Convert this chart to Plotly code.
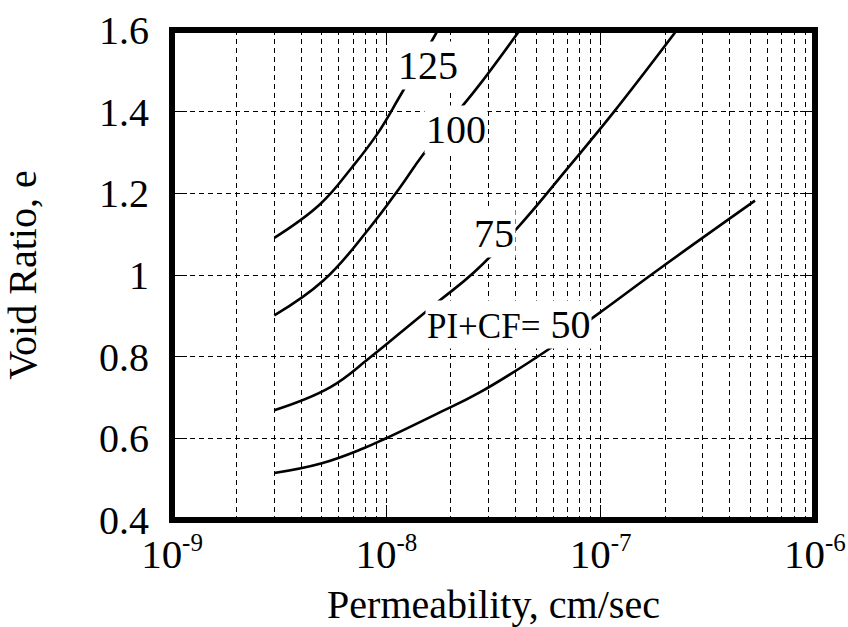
import math
import plotly.graph_objects as go

# Permeability (cm/sec) vs void ratio for four PI+CF groups
k_50 = [3.0e-9, 5.0e-9, 7.78e-9, 9.86e-9, 1.72e-8, 2.74e-8, 5.68e-8, 9.62e-8, 1.89e-7, 5.25e-7]
e_50 = [0.515, 0.539, 0.575, 0.599, 0.660, 0.713, 0.817, 0.903, 1.016, 1.182]

k_75 = [3.0e-9, 5.46e-9, 8.39e-9, 1.197e-8, 1.778e-8, 2.56e-8, 4.21e-8, 7.05e-8, 1.143e-7, 2.27e-7]
e_75 = [0.669, 0.725, 0.798, 0.864, 0.938, 1.006, 1.123, 1.263, 1.397, 1.600]

k_100 = [3.0e-9, 5.1e-9, 8.4e-9, 1.16e-8, 1.47e-8, 2.14e-8, 2.74e-8, 4.2e-8]
e_100 = [0.901, 0.987, 1.117, 1.215, 1.292, 1.398, 1.468, 1.600]

k_125 = [3.0e-9, 4.92e-9, 6.92e-9, 9.06e-9, 1.16e-8, 1.60e-8, 1.74e-8]
e_125 = [1.091, 1.174, 1.264, 1.345, 1.439, 1.566, 1.600]

x_tickvals = [1e-9, 1e-8, 1e-7, 1e-6]
x_exponents = ["-9", "-8", "-7", "-6"]
y_tickvals = [0.4, 0.6, 0.8, 1.0, 1.2, 1.4, 1.6]
y_ticktext = ["0.4", "0.6", "0.8", "1", "1.2", "1.4", "1.6"]

x_ticktext = ["10<sup><span style='font-size:25px'>%s</span></sup>" % p for p in x_exponents]

# label text, anchor permeability, anchor void ratio
curve_labels = [
    ("125", 1.56e-8, 1.514),
    ("100", 2.11e-8, 1.356),
    ("75", 3.18e-8, 1.101),
    ("<span style='font-size:35px'>PI+CF=</span> 50", 3.72e-8, 0.878),
]

FONT = "Liberation Serif"

fig = go.Figure()
for k, e in [(k_50, e_50), (k_75, e_75), (k_100, e_100), (k_125, e_125)]:
    fig.add_trace(go.Scatter(
        x=k, y=e, mode="lines",
        line=dict(color="black", width=2.6, shape="spline", smoothing=1.2),
        showlegend=False, hoverinfo="skip",
    ))

for text, kx, ey in curve_labels:
    fig.add_annotation(
        x=math.log10(kx), y=ey, xref="x", yref="y", text=text,
        showarrow=False, bgcolor="white", borderpad=1,
        font=dict(family=FONT, size=40, color="black"),
    )

grid = dict(gridcolor="black", gridwidth=1, griddash="5px,4px")

minor_x = [m * 10.0 ** d for d in (-9, -8, -7) for m in range(2, 10)]

fig.update_xaxes(
    type="log", range=[-9.0002, -5.9998], automargin=False,
    tickvals=x_tickvals, ticktext=x_ticktext,
    ticks="inside", ticklen=15, tickwidth=1, tickcolor="black",
    mirror="ticks", showline=False, zeroline=False,
    showgrid=True, **grid,
    minor=dict(tickvals=minor_x, showgrid=True, ticks="",
               gridcolor="black", gridwidth=1, griddash="5px,4px"),
    tickfont=dict(family=FONT, size=41, color="black"),
    ticklabelstandoff=6, ticklabeloverflow="allow",
    title=dict(text="Permeability, cm/sec",
               font=dict(family=FONT, size=40, color="black"), standoff=17),
)
fig.update_yaxes(
    range=[0.4, 1.6], automargin=False,
    tickvals=y_tickvals, ticktext=y_ticktext,
    ticks="inside", ticklen=15, tickwidth=1, tickcolor="black",
    mirror="ticks", showline=False, zeroline=False,
    showgrid=True, **grid,
    tickfont=dict(family=FONT, size=40, color="black"),
    ticklabelstandoff=22,
    title=dict(text="Void Ratio, e",
               font=dict(family=FONT, size=40, color="black"), standoff=50),
)

# heavy frame round the plotting area
fig.add_shape(type="rect", xref="paper", yref="paper", x0=0, x1=1, y0=0, y1=1,
              line=dict(color="black", width=6), layer="above")

fig.update_layout(
    width=848, height=627,
    margin=dict(l=172, r=33, t=30, b=107, pad=0),
    plot_bgcolor="white", paper_bgcolor="white",
)

fig.write_html("out.html")
